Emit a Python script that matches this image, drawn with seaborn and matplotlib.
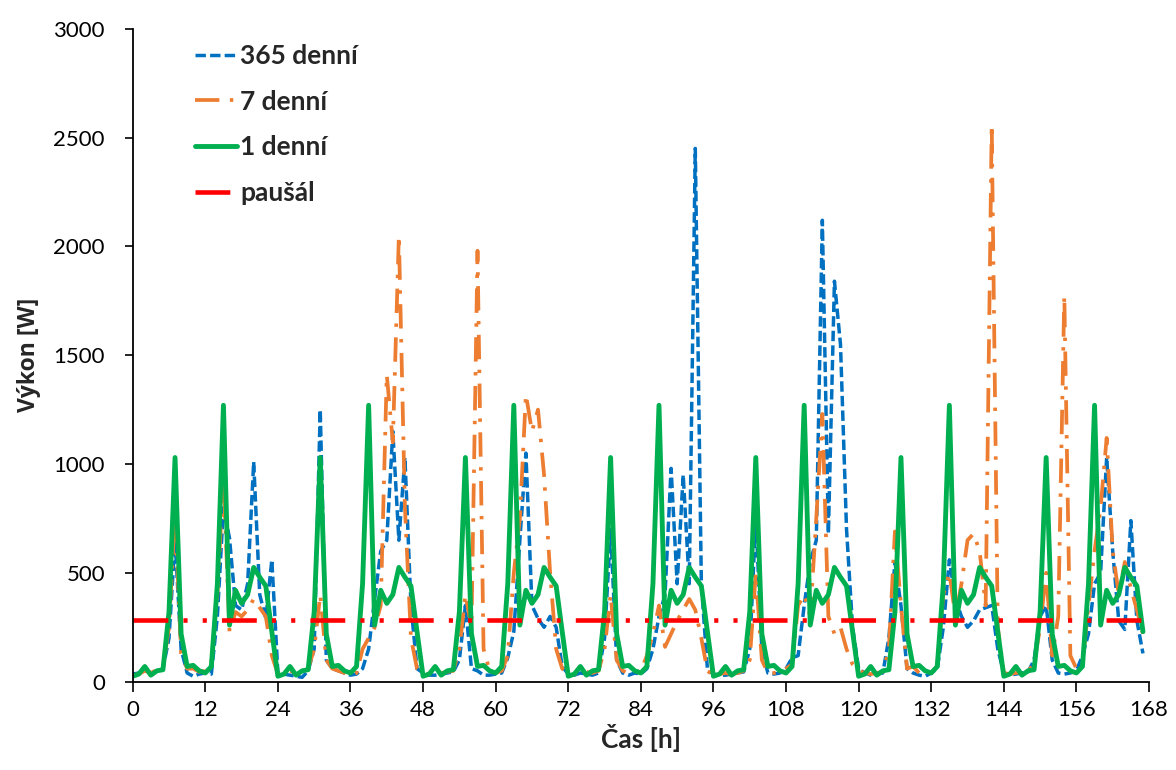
import matplotlib
matplotlib.use("Agg")
import matplotlib.pyplot as plt
import seaborn as sns
import numpy as np
import pandas as pd

# ---------------- data ----------------
hours = list(range(168))

labels = ["365 denní", "7 denní", "1 denní", "paušál"]

# 365-day profile (hourly, 7 days)
series_365 = [
    35, 40, 55, 40, 45, 60, 200, 650, 150, 40, 25, 35, 40, 35, 300, 800, 660, 350, 330, 450, 1010, 400, 290, 560,
    40, 35, 30, 25, 20, 50, 150, 1250, 100, 60, 50, 40, 30, 35, 60, 150, 380, 600, 650, 1150, 650, 1030, 350, 60,
    40, 30, 30, 35, 40, 45, 100, 350, 60, 50, 30, 30, 35, 40, 110, 230, 650, 1050, 350, 290, 250, 300, 250, 70,
    35, 30, 40, 35, 30, 40, 200, 700, 100, 40, 30, 40, 35, 60, 150, 300, 400, 980, 450, 950, 450, 2450, 450, 60,
    35, 30, 30, 35, 40, 45, 150, 750, 150, 40, 35, 40, 60, 110, 120, 350, 550, 650, 2120, 680, 1840, 1550, 700, 250,
    60, 40, 30, 35, 40, 200, 550, 350, 60, 40, 30, 25, 40, 60, 250, 560, 380, 300, 250, 280, 330, 340, 350, 150,
    40, 30, 35, 40, 45, 100, 300, 350, 100, 40, 35, 40, 50, 120, 220, 450, 500, 1030, 600, 280, 240, 740, 280, 130,
]

# 7-day profile (hourly, 7 days)
series_7 = [
    30, 35, 50, 40, 55, 65, 250, 780, 130, 60, 60, 45, 50, 90, 400, 950, 230, 320, 300, 330, 380, 340, 300, 120,
    35, 40, 50, 40, 45, 60, 150, 400, 100, 60, 50, 40, 30, 40, 150, 200, 250, 350, 1410, 1100, 2050, 800, 200, 60,
    40, 35, 30, 40, 45, 50, 150, 400, 250, 1980, 150, 50, 40, 50, 120, 500, 750, 1320, 1150, 1250, 950, 500, 150, 60,
    40, 35, 40, 45, 40, 50, 150, 400, 100, 50, 40, 45, 50, 120, 220, 350, 160, 220, 280, 330, 380, 330, 200, 50,
    30, 35, 40, 35, 40, 50, 100, 500, 100, 40, 40, 45, 60, 80, 350, 400, 300, 750, 1230, 300, 220, 250, 150, 80,
    50, 40, 35, 40, 45, 150, 690, 350, 60, 70, 40, 35, 40, 80, 400, 500, 300, 450, 650, 680, 600, 350, 2560, 250,
    40, 35, 40, 45, 50, 80, 250, 500, 120, 300, 1775, 120, 60, 80, 350, 600, 800, 1120, 600, 400, 550, 430, 330, 220,
]

# 1-day profile: the same day repeated every day of the week
day_profile_1 = [25, 35, 70, 30, 50, 55, 320, 1030, 220, 70, 75, 50, 40, 70,
                 450, 1270, 260, 420, 360, 400, 525, 480, 440, 230]
series_1 = day_profile_1 * 7

# flat rate
pausal_value = 285
series_pausal = [pausal_value] * len(hours)

x_ticks = list(range(0, 169, 12))
y_ticks = [0, 500, 1000, 1500, 2000, 2500, 3000]

# ---------------- style ----------------
sns.set_theme(style="ticks")
plt.rcParams["font.family"] = ["Lato", "DejaVu Sans"]

W, H = 1176, 770
fig = plt.figure(figsize=(W / 100, H / 100), dpi=100)
ax = fig.add_axes([132.7 / W, 1 - 681.7 / H, 1016.3 / W, 653 / H])

styles = [
    dict(color="#0070C0", lw=2.5, ls=(0, (3.0, 1.2))),
    dict(color="#ED7D31", lw=2.7, ls=(0, (6.5, 2.8, 0.9, 2.8))),
    dict(color="#00B050", lw=3.5, ls="-"),
    dict(color="#FF0000", lw=3.3, ls=(0, (7.6, 3.3, 0.9, 3.3, 0.9, 3.3))),
]
all_series = [series_365, series_7, series_1, series_pausal]

for lab, ys, st in zip(labels, all_series, styles):
    df = pd.DataFrame({"h": hours, "v": ys})
    sns.lineplot(data=df, x="h", y="v", ax=ax, color=st["color"], lw=st["lw"],
                 linestyle=st["ls"], label=lab, solid_joinstyle="round",
                 dash_joinstyle="round")

ax.set_xlim(0, 168)
ax.set_ylim(0, 3000)
ax.set_xticks(x_ticks)
ax.set_yticks(y_ticks)
ax.tick_params(axis="x", direction="out", length=7, width=1.2, pad=6,
               labelsize=16, colors="black")
ax.tick_params(axis="y", direction="out", length=6, width=1.2, pad=14,
               labelsize=16, colors="black")
for s in ["top", "right"]:
    ax.spines[s].set_visible(False)
for s in ["left", "bottom"]:
    ax.spines[s].set_color("black")
    ax.spines[s].set_linewidth(1.3)

ax.set_xlabel("Čas [h]", fontsize=19, fontweight="bold", labelpad=3)
ax.set_ylabel("Výkon [W]", fontsize=16.5, fontweight="bold", labelpad=9,
              family=["Open Sans", "DejaVu Sans"])

leg = ax.legend(loc="upper left", bbox_to_anchor=(0.0613, 0.9766), frameon=False,
                borderpad=0, borderaxespad=0, handlelength=1.6, handletextpad=0.12,
                labelspacing=0.82, prop={"weight": "bold", "size": 19})

fig.savefig("out.png", dpi=100)
